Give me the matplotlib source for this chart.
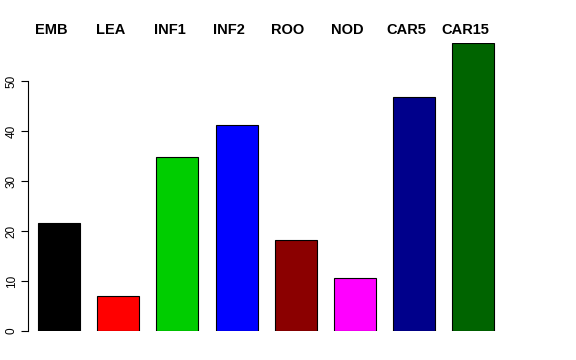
import matplotlib
matplotlib.use("Agg")
import matplotlib.pyplot as plt
import matplotlib.transforms as transforms

plt.rcParams['font.family'] = ['Liberation Sans', 'DejaVu Sans']

labels = ['EMB', 'LEA', 'INF1', 'INF2', 'ROO', 'NOD', 'CAR5', 'CAR15']
values = [21.6, 7.1, 34.7, 41.2, 18.3, 10.7, 46.8, 57.6]
colors = ['#000000', '#FF0000', '#00CD00', '#0000FF',
          '#8B0000', '#FF00FF', '#00008B', '#006400']
yticks = [0, 10, 20, 30, 40, 50]

fig = plt.figure(figsize=(5.76, 3.6), dpi=100)
ax = fig.add_axes([28 / 576, 29 / 360, 492 / 576, 288 / 360])

pos = list(range(len(values)))
ax.bar(pos, values, width=0.71, color=colors, edgecolor='black', linewidth=0.8)

ax.set_xlim(-0.524, 7.787)
ax.set_ylim(0, 57.6)

for s in ['top', 'right', 'bottom']:
    ax.spines[s].set_visible(False)
ax.spines['left'].set_bounds(0, 50)
ax.spines['left'].set_linewidth(0.8)
ax.set_xticks([])
ax.set_yticks(yticks)
ax.set_yticklabels([str(t) for t in yticks], rotation=90, va='center', fontsize=8.5)
ax.tick_params(axis='y', length=5, width=0.8, pad=2.5)

# labels sit a little left of the bar centres, as in the original
trans = transforms.blended_transform_factory(ax.transData, fig.transFigure)
for p, lab in zip(pos, labels):
    ax.text(p - 0.135, 1 - 30 / 360, lab, transform=trans, ha='center', va='center',
            fontsize=10.5, fontweight='bold')

fig.savefig('out.png', dpi=100)
